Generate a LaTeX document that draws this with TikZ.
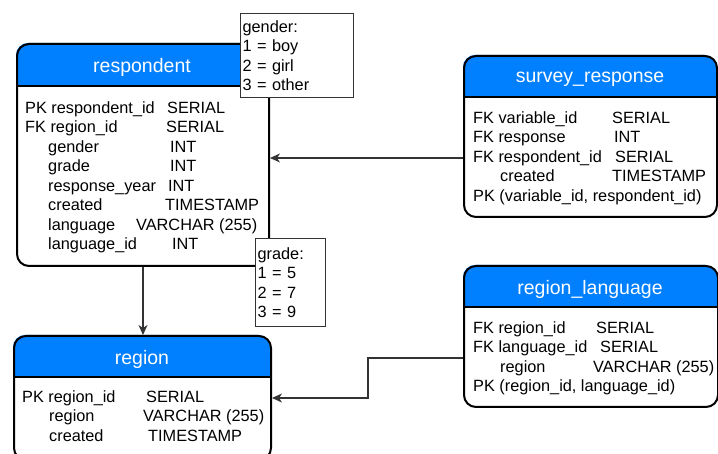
\documentclass[tikz,border=0pt]{standalone}
\usepackage{fontspec}
\setmainfont{Liberation Sans}
\usetikzlibrary{arrows.meta, positioning}
\definecolor{headblue}{RGB}{0,127,255}
\definecolor{linegray}{RGB}{51,51,51}
\newcommand{\fld}[3]{\makebox[#1][l]{#2}#3}

\begin{document}
\begin{tikzpicture}[x=1pt, y=-1pt]
  % Define styles for tables, notes and links
  \tikzstyle{tbl}=[draw, line width=2pt, rounded corners=12pt, inner sep=0pt, anchor=north west]
  \tikzstyle{title}=[white, inner sep=0pt, font=\fontsize{19.5}{23}\selectfont]
  \tikzstyle{fields}=[anchor=north west, align=left, inner sep=0pt, font=\fontsize{16.3}{19.5}\selectfont]
  \tikzstyle{note}=[draw=linegray, line width=1.2pt, fill=white, anchor=north west, align=left, inner xsep=2pt, font=\fontsize{16.3}{19.5}\selectfont]
  \tikzstyle{conn}=[draw=linegray, line width=1.2pt, -{Stealth[length=10pt, width=9pt, inset=3pt]}]

  \clip (0,0) rectangle (718,454);

  % respondent table
  \fill[headblue] (16,86) [rounded corners=12pt] -- (16,43) -- (268,43) [sharp corners] -- (268,86) -- cycle;
  \node[tbl, minimum width=252pt, minimum height=222pt] (resp) at (16,43) {};
  \draw[line width=2pt] (resp.west |- 0,86) -- (resp.east |- 0,86);
  \node[title] (resp-t) at (142,67) {respondent};
  \node[fields] (resp-f) at (25,101) {\fld{142pt}{PK respondent\_id}{SERIAL}\\
    \fld{141pt}{FK region\_id}{SERIAL}\\
    \fld{145pt}{\hspace*{23pt}gender}{INT}\\
    \fld{145pt}{\hspace*{23pt}grade}{INT}\\
    \fld{143pt}{\hspace*{23pt}response\_year}{INT}\\
    \fld{140pt}{\hspace*{23pt}created}{TIMESTAMP}\\
    \fld{111pt}{\hspace*{23pt}language}{VARCHAR (255)}\\
    \fld{147pt}{\hspace*{23pt}language\_id}{INT}};

  % survey_response table
  \fill[headblue] (463,97) [rounded corners=12pt] -- (463,55) -- (716,55) [sharp corners] -- (716,97) -- cycle;
  \node[tbl, minimum width=253pt, minimum height=161pt] (sresp) at (463,55) {};
  \draw[line width=2pt] (sresp.west |- 0,97) -- (sresp.east |- 0,97);
  \node[title] (sresp-t) at (590,79) {survey\_response};
  \node[fields] (sresp-f) at (473,111) {\fld{139pt}{FK variable\_id}{SERIAL}\\
    \fld{141pt}{FK response}{INT}\\
    \fld{142pt}{FK respondent\_id}{SERIAL}\\
    \fld{139pt}{\hspace*{27pt}created}{TIMESTAMP}\\
    PK (variable\_id, respondent\_id)};

  % region_language table
  \fill[headblue] (463,307) [rounded corners=12pt] -- (463,265) -- (717,265) [sharp corners] -- (717,307) -- cycle;
  \node[tbl, minimum width=254pt, minimum height=141pt] (rlang) at (463,265) {};
  \draw[line width=2pt] (rlang.west |- 0,307) -- (rlang.east |- 0,307);
  \node[title] (rlang-t) at (590,289) {region\_language};
  \node[fields] (rlang-f) at (473,321) {\fld{123pt}{FK region\_id}{SERIAL}\\
    \fld{127pt}{FK language\_id}{SERIAL}\\
    \fld{120pt}{\hspace*{27pt}region}{VARCHAR (255)}\\
    PK (region\_id, language\_id)};

  % region table
  \fill[headblue] (13,377) [rounded corners=12pt] -- (13,335) -- (270,335) [sharp corners] -- (270,377) -- cycle;
  \node[tbl, minimum width=257pt, minimum height=124pt] (region) at (13,335) {};
  \draw[line width=2pt] (region.west |- 0,377) -- (region.east |- 0,377);
  \node[title] (region-t) at (142,359) {region};
  \node[fields] (region-f) at (22,390) {\fld{124pt}{PK region\_id}{SERIAL}\\
    \fld{121pt}{\hspace*{27pt}region}{VARCHAR (255)}\\
    \fld{126pt}{\hspace*{27pt}created}{TIMESTAMP}};

  % Links
  \coordinate (sresp-out) at ([yshift=-21.5pt]sresp.west);
  \draw[conn] (sresp-out) -- (sresp-out -| resp.east);
  \draw[conn] (resp.south) -- (resp.south |- region.north);
  \coordinate (rlang-out) at ([yshift=-21.5pt]rlang.west);
  \draw[conn] (rlang-out) -- ++(-95,0) |- (region.east);

  % Notes
  \node[note, text width=109pt, minimum height=84pt] (gnote) at (240,13) {gender:\\1 = boy\\2 = girl\\3 = other};
  \node[note, text width=66pt, minimum height=88pt] (gdnote) at (255,238) {grade:\\1 = 5\\2 = 7\\3 = 9};
\end{tikzpicture}
\end{document}
